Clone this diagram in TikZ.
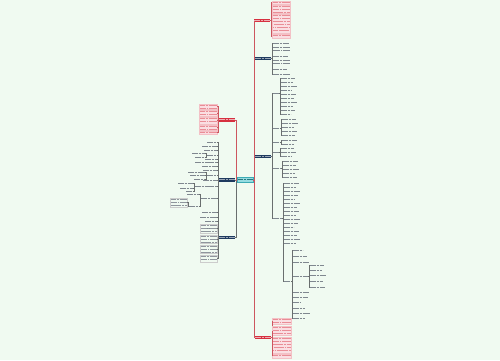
\documentclass[tikz,border=0pt]{standalone}
\usepackage{tikz}
\usetikzlibrary{calc}

\definecolor{bgc}{RGB}{240,250,241}
\definecolor{navy}{RGB}{31,58,95}
\definecolor{redn}{RGB}{214,48,64}
\definecolor{pinkc}{RGB}{250,222,226}
\definecolor{cyanfill}{RGB}{150,220,225}
\definecolor{cyanline}{RGB}{60,170,180}
\definecolor{lineg}{RGB}{105,110,110}
\definecolor{linered}{RGB}{205,85,95}
\definecolor{texg}{RGB}{95,105,115}

\tikzset{
  textlines/.style={path picture={
    \foreach \t in {1,...,20}
      \draw[#1, line width=1pt, dash pattern=on 2.4pt off 0.4pt on 1.5pt off 0.4pt on 3.2pt off 0.5pt, dash phase=\t*1.7pt]
        ($(path picture bounding box.north west)+(0,\t*3-1.5)$) --
        ($(path picture bounding box.north east)+(0,\t*3-1.5)$);
  }}
}

\begin{document}
\begin{tikzpicture}[x=1pt,y=-1pt,
  every node/.style={inner sep=0pt, outer sep=0pt},
  zhu/.style={draw=cyanline, fill=cyanfill, line width=0.5pt, minimum width=16, minimum height=5, textlines={cyanline!70!black}},
  lan/.style={fill=navy, minimum width=16, minimum height=3.5, textlines={white!55!navy}},
  hong/.style={fill=redn, minimum width=16, minimum height=3.5, textlines={white!60!redn}},
  ye/.style={minimum height=3, textlines={texg!80}},
  kuai/.style={draw=gray!40, line width=0.3pt, textlines={texg!70}},
  fen/.style={fill=pinkc, draw=redn!30, line width=0.3pt, textlines={redn!55}},
  lian/.style={draw=lineg, line width=0.35pt},
  hlian/.style={draw=linered, line width=0.4pt}]

% 背景
\fill[bgc] (0,0) rectangle (500,360);
\useasboundingbox (0,0) rectangle (500,360);

% 中心主题
\node[zhu] (c) at (245,180) {};

% 一级分支
\node[hong] (r1) at (262,20.5) {};
\node[lan] (r2) at (263,58.5) {};
\node[lan] (r3) at (263,156.5) {};
\node[hong] (r4) at (263,337.5) {};
\node[hong] (l1) at (227,120) {};
\node[lan] (l2) at (227,180) {};
\node[lan] (l3) at (227,237.5) {};

\draw[lian] (c.east) -- ++(1,0) |- (r2.west);
\draw[lian] (c.east) -- ++(1,0) |- (r3.west);
\draw[hlian] (c.east) -- ++(1,0) |- (r1.west);
\draw[hlian] (c.east) -- ++(1,0) |- (r4.west);
\draw[lian] (c.west) -- ++(-1,0) |- (l2.east);
\draw[lian] (c.west) -- ++(-1,0) |- (l3.east);
\draw[hlian] (c.west) -- ++(-1,0) |- (l1.east);

% 右上 红色分支
\foreach \y/\h [count=\k] in {2.5/3, 9/8, 23.5/19, 36/4} {
  \node[fen, minimum width=18, minimum height=\h, anchor=west] (r1x\k) at (272,\y) {};
  \draw[hlian] (r1.east) -- ++(1,0) |- (r1x\k.west);
}

% 右下 红色分支
\foreach \y/\h [count=\k] in {321/6, 330.5/9, 345/16, 356/4} {
  \node[fen, minimum width=19, minimum height=\h, anchor=west] (r4x\k) at (272,\y) {};
  \draw[hlian] (r4.east) -- ++(1,0) |- (r4x\k.west);
}

% 右侧 第一个蓝色分支
\foreach \y/\w/\h [count=\k] in {43/16/3, 49/17/6, 56/15/3, 62/17/6, 69/14/3, 74/17/3} {
  \node[ye, minimum width=\w, minimum height=\h, anchor=west] (r2x\k) at (273,\y) {};
  \draw[lian] (r2.east) -- ++(1,0) |- (r2x\k.west);
}

% 右侧 第二个蓝色分支
\foreach \y/\w [count=\k] in {93/6, 128/7, 142/7, 152/6, 168/8, 218/9} {
  \node[ye, minimum width=\w, anchor=west] (b\k) at (273,\y) {};
  \draw[lian] (r3.east) -- ++(1,0) |- (b\k.west);
}
\foreach \y/\w [count=\k] in {78/14, 82/12, 86/16, 90/11, 94/15, 98/13, 102/16, 106/12, 110/14, 114/10} {
  \node[ye, minimum width=\w, anchor=west] (b1x\k) at (281,\y) {};
  \draw[lian] (b1.east) -- ++(1,0) |- (b1x\k.west);
}
\foreach \y/\w [count=\k] in {119/14, 123/16, 127/12, 131/15, 135/13} {
  \node[ye, minimum width=\w, anchor=west] (b2x\k) at (282,\y) {};
  \draw[lian] (b2.east) -- ++(1,0) |- (b2x\k.west);
}
\foreach \y/\w [count=\k] in {140/15, 144/12} {
  \node[ye, minimum width=\w, anchor=west] (b3x\k) at (282,\y) {};
  \draw[lian] (b3.east) -- ++(1,0) |- (b3x\k.west);
}
\foreach \y/\w [count=\k] in {148/13, 152/15, 156/11} {
  \node[ye, minimum width=\w, anchor=west] (b4x\k) at (281,\y) {};
  \draw[lian] (b4.east) -- ++(1,0) |- (b4x\k.west);
}
\foreach \y/\w [count=\k] in {161/15, 165/13, 169/16, 173/12, 177/14} {
  \node[ye, minimum width=\w, anchor=west] (b5x\k) at (283,\y) {};
  \draw[lian] (b5.east) -- ++(1,0) |- (b5x\k.west);
}
\foreach \y/\w [count=\k] in {183/15, 187/12, 191/16, 195/14, 199/11, 203/16, 207/13, 211/15, 215/12, 219/16, 223/14, 227/10, 231/15, 235/13, 239/16, 243/12} {
  \node[ye, minimum width=\w, anchor=west] (b6x\k) at (284,\y) {};
  \draw[lian] (b6.east) -- ++(1,0) |- (b6x\k.west);
}
\node[ye, minimum width=7, anchor=west] (e1) at (284,281) {};
\draw[lian] (b6.east) -- ++(1,0) |- (e1.west);
\foreach \y/\w [count=\k] in {250/10, 256/14, 262/16, 292/16, 297/15, 302/8, 308/12, 313/17, 318/12} {
  \node[ye, minimum width=\w, anchor=west] (e1x\k) at (293,\y) {};
  \draw[lian] (e1.east) -- ++(1,0) |- (e1x\k.west);
}
\node[ye, minimum width=15, anchor=west] (d1) at (293,276) {};
\draw[lian] (e1.east) -- ++(1,0) |- (d1.west);
\foreach \y/\w [count=\k] in {265/14, 270/12, 275/16, 281/13, 287/15} {
  \node[ye, minimum width=\w, anchor=west] (d1x\k) at (310,\y) {};
  \draw[lian] (d1.east) -- ++(1,0) |- (d1x\k.west);
}

% 左侧 红色分支
\foreach \y/\h [count=\k] in {106.5/5, 113/6, 120.5/7, 127.5/5, 132.5/3} {
  \node[fen, minimum width=18, minimum height=\h, anchor=east] (l1x\k) at (217,\y) {};
  \draw[hlian] (l1.west) -- ++(-1,0) |- (l1x\k.east);
}

% 左侧 第一个蓝色分支
\foreach \y/\w [count=\k] in {142/10, 146/15, 150/13, 159/12, 162.5/22, 166/15, 170/14, 180/14, 212/15, 217/17, 221/12, 228/10} {
  \node[ye, minimum width=\w, anchor=east] (l2x\k) at (217,\y) {};
  \draw[lian] (l2.west) -- ++(-1,0) |- (l2x\k.east);
}
\foreach \y/\w [count=\k] in {155/10, 175/10, 186/22, 198/16} {
  \node[ye, minimum width=\w, anchor=east] (s\k) at (217,\y) {};
  \draw[lian] (l2.west) -- ++(-1,0) |- (s\k.east);
}
\foreach \y/\w [count=\k] in {153/13, 157/10} {
  \node[ye, minimum width=\w, anchor=east] (s1x\k) at (205,\y) {};
  \draw[lian] (s1.west) -- ++(-1,0) |- (s1x\k.east);
}
\foreach \y/\w [count=\k] in {172/17, 175.5/15, 179/11} {
  \node[ye, minimum width=\w, anchor=east] (s2x\k) at (205,\y) {};
  \draw[lian] (s2.west) -- ++(-1,0) |- (s2x\k.east);
}
\foreach \y/\w [count=\k] in {183/15, 188/13, 191.5/7} {
  \node[ye, minimum width=\w, anchor=east] (s3x\k) at (193,\y) {};
  \draw[lian] (s3.west) -- ++(-1,0) |- (s3x\k.east);
}
\node[ye, minimum width=12, anchor=east] (s4x1) at (199,194) {};
\node[ye, minimum width=10, anchor=east] (t1) at (199,206) {};
\node[kuai, minimum width=17, minimum height=9, anchor=east] (t1x1) at (187,202.5) {};
\draw[lian] (s4.west) -- ++(-1,0) |- (s4x1.east);
\draw[lian] (s4.west) -- ++(-1,0) |- (t1.east);
\draw[lian] (t1.west) -- ++(-1,0) |- (t1x1.east);

% 左侧 第二个蓝色分支
\foreach \y/\h [count=\k] in {228.5/9, 239/8, 249/8, 258.5/7} {
  \node[kuai, minimum width=17, minimum height=\h, anchor=east] (l3x\k) at (217,\y) {};
  \draw[lian] (l3.west) -- ++(-1,0) |- (l3x\k.east);
}
\end{tikzpicture}
\end{document}
